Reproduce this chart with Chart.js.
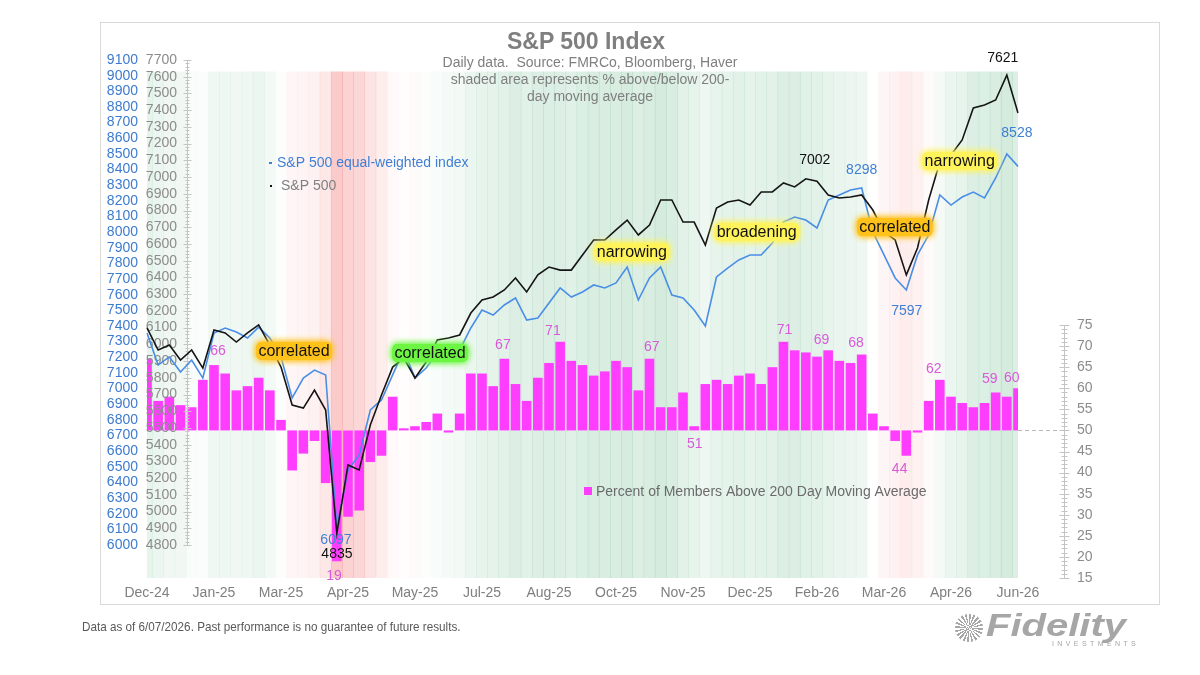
<!DOCTYPE html>
<html>
<head>
<meta charset="utf-8">
<script src="https://cdn.jsdelivr.net/npm/chart.js@4.4.1/dist/chart.umd.min.js"></script>
<style>
  html, body { margin: 0; padding: 0; background: #fff; }
  #wrap { position: relative; width: 1200px; height: 675px; overflow: hidden; font-family: "Liberation Sans", Arial, sans-serif; }
  #chart { position: absolute; left: 0; top: 0; }
  #frame { position: absolute; left: 100px; top: 22px; width: 1060px; height: 583px; border: 1px solid #d9d9d9; box-sizing: border-box; pointer-events: none; }
  .title { position: absolute; left: 386px; width: 400px; top: 28px; text-align: center; font-weight: bold; font-size: 23px; line-height: 27px; color: #7f7f7f; }
  .sub { position: absolute; left: 390px; width: 400px; top: 54px; text-align: center; font-size: 14px; line-height: 17px; color: #7f7f7f; }
  .foot { position: absolute; left: 82px; top: 619px; font-family: "Liberation Sans Narrow", "Arial Narrow", "Liberation Sans", sans-serif; font-size: 13px; color: #595959; transform: scaleX(0.9); transform-origin: left center; white-space: nowrap; }
  .sun { position: absolute; left: 955px; top: 614px; width: 28px; height: 28px; border-radius: 50%;
         background: repeating-conic-gradient(#a6a6a6 0deg 9deg, #fff 9deg 18deg); }
  .fid { position: absolute; left: 986px; top: 607px; font-style: italic; font-weight: bold; font-size: 32px; color: #a6a6a6; transform: scaleX(1.25); transform-origin: left center; }
  .inv { position: absolute; left: 1052px; top: 640px; font-size: 7px; letter-spacing: 3.4px; color: #a6a6a6; }
</style>
</head>
<body>
<div id="wrap">
  <canvas id="chart" width="1200" height="675"></canvas>
  <div id="frame"></div>
  <div class="title">S&amp;P 500 Index</div>
  <div class="sub">Daily data.&nbsp; Source: FMRCo, Bloomberg, Haver<br>shaded area represents % above/below 200-<br>day moving average</div>
  <div class="foot">Data as of 6/07/2026. Past performance is no guarantee of future results.</div>
  <div class="sun"></div>
  <div class="fid">Fidelity</div>
  <div class="inv">INVESTMENTS</div>
</div>
<script>
// etiquetas del eje x (una cada 6 puntos)
const monthLabels = ['Dec-24', 'Jan-25', 'Mar-25', 'Apr-25', 'May-25', 'Jul-25', 'Aug-25',
  'Oct-25', 'Nov-25', 'Dec-25', 'Feb-26', 'Mar-26', 'Apr-26', 'Jun-26'];
const pointsPerLabel = 6;

// S&P 500 (eje gris)
const sp500 = [6098, 5966, 5996, 5906, 5966, 5858, 6086, 6068, 6014, 6068,
  6116, 5996, 5864, 5637, 5619, 5727, 5607, 4870, 5279, 5249,
  5518, 5697, 5864, 5918, 5799, 5894, 6026, 6038, 6056, 6187,
  6265, 6283, 6325, 6397, 6313, 6415, 6462, 6444, 6444, 6534,
  6624, 6624, 6684, 6743, 6654, 6713, 6863, 6863, 6731, 6731,
  6594, 6815, 6851, 6863, 6833, 6911, 6911, 6965, 6941, 6990,
  6975, 6893, 6875, 6881, 6893, 6803, 6672, 6624, 6415, 6576,
  6863, 7090, 7132, 7222, 7413, 7431, 7461, 7610, 7383];

// S&P 500 equal-weighted (eje azul)
const equalWeighted = [7355, 7150, 7202, 7106, 7182, 7067, 7355, 7387, 7361, 7323,
  7393, 7323, 7202, 6940, 7067, 7118, 7087, 6110, 6479, 6575,
  6863, 6927, 7087, 7246, 7067, 7131, 7227, 7227, 7246, 7387,
  7502, 7470, 7534, 7579, 7438, 7451, 7547, 7643, 7585, 7617,
  7662, 7643, 7675, 7777, 7566, 7707, 7777, 7598, 7579, 7502,
  7400, 7713, 7770, 7822, 7854, 7854, 7930, 8065, 8096, 8077,
  8026, 8205, 8237, 8269, 8282, 8001, 7854, 7707, 7630, 7854,
  7981, 8237, 8173, 8224, 8256, 8218, 8346, 8500, 8420];

// % de miembros sobre su media de 200 días (barras desde 50)
const pctAbove = [67, 57, 58, 56, 55.5, 62, 65.5, 63.5, 59.5, 60.5,
  62.5, 59.5, 52.5, 40.5, 44.5, 47.5, 37.5, 19, 29.5, 31,
  42.5, 44, 58, 50.5, 51, 52, 54, 49.5, 54, 63.5,
  63.5, 60.5, 67, 61, 57, 62.5, 66, 71, 66.5, 65.5,
  63, 64, 66.5, 65, 59.5, 67, 55.5, 55.5, 59, 51,
  61, 62, 61, 63, 63.5, 61, 65, 71, 69, 68.5,
  67.5, 69, 66.5, 66, 68, 54, 51, 47.5, 44, 49.5,
  57, 62, 58, 56.5, 55.5, 56.5, 59, 58, 60];

// % del S&P 500 sobre/bajo su media de 200 días (sombreado)
const vs200dma = [5, 4, 3, 3, 1.5, 1, 3, 3.5, 3, 3.5,
  4, 2.5, 0.5, -2, -2.5, -3, -5, -12, -10, -9,
  -6, -4, -1.5, -0.5, -1, 0.5, 1.5, 2, 2.5, 4,
  5, 5.5, 6, 7, 6, 7, 7.5, 7, 6.5, 7.5,
  8, 8, 8, 8.5, 7, 8, 9, 8, 6, 5,
  3.5, 5, 5.5, 6, 5.5, 6, 6, 7, 7, 6.5,
  6, 5, 4.5, 4, 3.5, 0, -2, -3, -4, -3,
  -1, 2, 4, 5, 7, 7.5, 8, 9, 7];

// rangos de ejes
const ewTickMin = 6000, ewTickMax = 9100;
const spTickMin = 4800, spTickMax = 7700;
const pctTickMin = 15, pctTickMax = 75;
const pctBase = 50;

// textos sobre el gráfico (posición en índice del eje x y valor del eje)
const valueLabels = [
  { text: '66', at: 6.36, v: 68.8, axis: 'yPct', color: '#d95ad9' },
  { text: '67', at: 31.87, v: 70.3, axis: 'yPct', color: '#d95ad9' },
  { text: '71', at: 36.35, v: 73.6, axis: 'yPct', color: '#d95ad9' },
  { text: '67', at: 45.2, v: 69.8, axis: 'yPct', color: '#d95ad9' },
  { text: '51', at: 49.06, v: 46.8, axis: 'yPct', color: '#d95ad9' },
  { text: '71', at: 57.1, v: 73.8, axis: 'yPct', color: '#d95ad9' },
  { text: '69', at: 60.4, v: 71.4, axis: 'yPct', color: '#d95ad9' },
  { text: '68', at: 63.5, v: 70.7, axis: 'yPct', color: '#d95ad9' },
  { text: '62', at: 70.46, v: 64.6, axis: 'yPct', color: '#d95ad9' },
  { text: '44', at: 67.4, v: 40.9, axis: 'yPct', color: '#d95ad9' },
  { text: '59', at: 75.47, v: 62.2, axis: 'yPct', color: '#d95ad9' },
  { text: '60', at: 77.44, v: 62.4, axis: 'yPct', color: '#d95ad9' },
  { text: '19', at: 16.74, v: 15.5, axis: 'yPct', color: '#d95ad9' },
  { text: '7621', at: 76.63, v: 7712, axis: 'ySP', color: '#111111' },
  { text: '7002', at: 59.8, v: 7102, axis: 'ySP', color: '#111111' },
  { text: '4835', at: 17.01, v: 4746, axis: 'ySP', color: '#111111' },
  { text: '8528', at: 77.9, v: 8633, axis: 'yEW', color: '#3f7fd4' },
  { text: '8298', at: 64.0, v: 8397, axis: 'yEW', color: '#3f7fd4' },
  { text: '7597', at: 68.04, v: 7496, axis: 'yEW', color: '#3f7fd4' },
  { text: '6097', at: 16.92, v: 6032, axis: 'yEW', color: '#3f7fd4' }
];

const notes = [
  { text: 'correlated', at: 13.16, v: 5960, glow: '#ffc21a' },
  { text: 'correlated', at: 25.34, v: 5948, glow: '#6cf542' },
  { text: 'narrowing', at: 43.42, v: 6552, glow: '#fff35c' },
  { text: 'broadening', at: 54.6, v: 6672, glow: '#fff35c' },
  { text: 'correlated', at: 66.97, v: 6701, glow: '#ffc21a' },
  { text: 'narrowing', at: 72.78, v: 7096, glow: '#fff35c' }
];

const labels = sp500.map((_, i) => i % pointsPerLabel === 0 ? monthLabels[i / pointsPerLabel] : '');
const range = (a, b, s) => Array.from({ length: Math.round((b - a) / s) + 1 }, (_, i) => a + i * s);

function shadeColor(v) {
  if (v >= 0) return 'rgba(30,150,80,' + (Math.min(v / 9, 1) * 0.19).toFixed(3) + ')';
  return 'rgba(240,50,50,' + (Math.min(-v / 12, 1) * 0.26).toFixed(3) + ')';
}

const FONT = '"Liberation Sans", Arial, sans-serif';
Chart.defaults.font.family = FONT;

// eje gris del S&P 500, dentro del área del gráfico
function drawGrayAxis(chart) {
  const ctx = chart.ctx, s = chart.scales.ySP;
  const ax = 187.5;
  ctx.save();
  ctx.strokeStyle = '#c4c4c4';
  ctx.lineWidth = 1;
  ctx.beginPath();
  ctx.moveTo(ax, s.getPixelForValue(spTickMax));
  ctx.lineTo(ax, s.getPixelForValue(spTickMin));
  range(spTickMin, spTickMax, 20).forEach(v => {
    const y = Math.round(s.getPixelForValue(v)) + 0.5;
    const len = v % 100 === 0 ? 4 : 2;
    ctx.moveTo(ax - len, y);
    ctx.lineTo(ax + len, y);
  });
  ctx.stroke();
  ctx.fillStyle = '#8c8c8c';
  ctx.font = '14px ' + FONT;
  ctx.textAlign = 'right';
  ctx.textBaseline = 'middle';
  range(spTickMin, spTickMax, 100).forEach(v => ctx.fillText(String(v), 177, s.getPixelForValue(v)));
  ctx.restore();
}

function drawRightAxis(chart) {
  const ctx = chart.ctx, s = chart.scales.yPct, area = chart.chartArea;
  const ax = 1064.5;
  ctx.save();
  ctx.strokeStyle = '#c4c4c4';
  ctx.lineWidth = 1;
  ctx.beginPath();
  ctx.moveTo(ax, s.getPixelForValue(pctTickMin));
  ctx.lineTo(ax, s.getPixelForValue(pctTickMax));
  range(pctTickMin, pctTickMax, 1).forEach(v => {
    const y = Math.round(s.getPixelForValue(v)) + 0.5;
    const len = v % 5 === 0 ? 5 : 3;
    ctx.moveTo(ax - len, y);
    ctx.lineTo(ax + len, y);
  });
  ctx.stroke();
  // línea discontinua en 50
  const y50 = Math.round(s.getPixelForValue(pctBase)) + 0.5;
  ctx.setLineDash([4, 3]);
  ctx.strokeStyle = '#b8b8b8';
  ctx.beginPath();
  ctx.moveTo(area.right, y50);
  ctx.lineTo(ax - 5, y50);
  ctx.stroke();
  ctx.setLineDash([]);
  ctx.fillStyle = '#8c8c8c';
  ctx.font = '14px ' + FONT;
  ctx.textAlign = 'left';
  ctx.textBaseline = 'middle';
  range(pctTickMin, pctTickMax, 5).forEach(v => ctx.fillText(String(v), 1077, s.getPixelForValue(v)));
  ctx.restore();
}

function drawTexts(chart) {
  const ctx = chart.ctx, x = chart.scales.x;
  ctx.save();
  ctx.textAlign = 'center';
  ctx.textBaseline = 'middle';
  ctx.font = '14px ' + FONT;
  valueLabels.forEach(l => {
    ctx.fillStyle = l.color;
    ctx.fillText(l.text, x.getPixelForValue(l.at), chart.scales[l.axis].getPixelForValue(l.v));
  });
  ctx.font = '16px ' + FONT;
  notes.forEach(n => {
    const px = x.getPixelForValue(n.at), py = chart.scales.ySP.getPixelForValue(n.v);
    const w = ctx.measureText(n.text).width;
    ctx.save();
    ctx.fillStyle = n.glow;
    ctx.shadowColor = n.glow;
    ctx.shadowBlur = 7;
    ctx.beginPath();
    ctx.roundRect(px - w / 2 - 2, py - 9, w + 4, 18, 5);
    ctx.fill();
    ctx.fill();
    ctx.restore();
    ctx.fillStyle = '#111';
    ctx.fillText(n.text, px, py + 1);
  });
  // leyendas
  ctx.textAlign = 'left';
  ctx.font = '14px ' + FONT;
  ctx.fillStyle = '#3f7fd4';
  ctx.fillRect(269, 162, 3, 2);
  ctx.fillText('S&P 500 equal-weighted index', 277, 163);
  ctx.fillStyle = '#111';
  ctx.fillRect(270, 185, 2, 2);
  ctx.fillStyle = '#7f7f7f';
  ctx.fillText('S&P 500', 281, 186);
  ctx.fillStyle = '#ff3dff';
  ctx.fillRect(584, 487, 8, 8);
  ctx.fillStyle = '#6b6b6b';
  ctx.fillText('Percent of Members Above 200 Day Moving Average', 596, 492);
  ctx.restore();
}

const overlay = {
  id: 'overlay',
  afterDatasetDraw(chart, args) {
    if (args.index === 1) drawGrayAxis(chart);
  },
  afterDraw(chart) {
    drawRightAxis(chart);
    drawTexts(chart);
  }
};

new Chart(document.getElementById('chart'), {
  type: 'bar',
  data: {
    labels,
    datasets: [
      {
        data: vs200dma.map(() => [0, 0.977]),
        backgroundColor: vs200dma.map(shadeColor),
        yAxisID: 'yShade',
        grouped: false,
        barPercentage: 1,
        categoryPercentage: 1,
        order: 10
      },
      {
        data: pctAbove.map(v => [pctBase, v]),
        backgroundColor: '#ff3dff',
        yAxisID: 'yPct',
        grouped: false,
        barPercentage: 0.86,
        categoryPercentage: 1,
        borderSkipped: false,
        order: 5
      },
      {
        type: 'line',
        data: equalWeighted,
        yAxisID: 'yEW',
        borderColor: '#4a8ee6',
        borderWidth: 1.6,
        pointRadius: 0,
        tension: 0,
        order: 2
      },
      {
        type: 'line',
        data: sp500,
        yAxisID: 'ySP',
        borderColor: '#151515',
        borderWidth: 1.6,
        pointRadius: 0,
        tension: 0,
        order: 1
      }
    ]
  },
  options: {
    responsive: false,
    animation: false,
    events: [],
    devicePixelRatio: 1,
    layout: { padding: { left: 100, right: 182, top: 60, bottom: 57 } },
    plugins: { legend: { display: false }, tooltip: { enabled: false } },
    scales: {
      x: {
        type: 'category',
        offset: false,
        grid: { display: false, drawTicks: false },
        border: { display: false },
        ticks: { autoSkip: false, maxRotation: 0, color: '#7f7f7f', font: { size: 14 }, padding: 7 },
        afterFit(s) { s.height = 40; }
      },
      yEW: {
        position: 'left',
        min: 5789,
        max: ewTickMax,
        afterBuildTicks(s) { s.ticks = range(ewTickMin, ewTickMax, 100).map(v => ({ value: v })); },
        ticks: { autoSkip: false, color: '#3d7bd0', font: { size: 14 }, padding: 9, callback: v => String(v) },
        grid: { display: false, drawTicks: false },
        border: { display: false },
        afterFit(s) { s.width = 47; }
      },
      ySP: { display: false, min: 4603, max: spTickMax },
      yPct: { display: false, min: pctTickMin, max: 137.85 },
      yShade: { display: false, min: 0, max: 1 }
    }
  },
  plugins: [overlay]
});
</script>
</body>
</html>
